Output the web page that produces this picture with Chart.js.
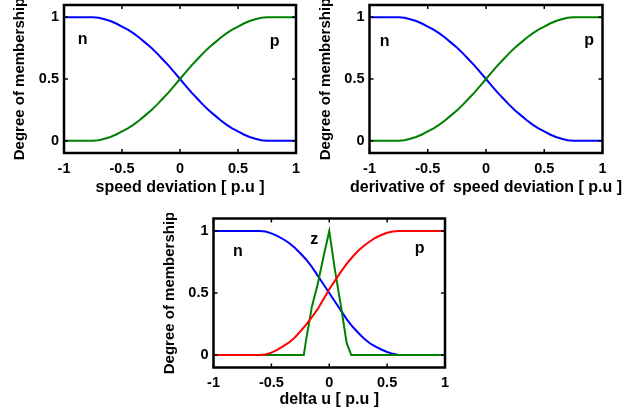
<!DOCTYPE html>
<html>
<head>
<meta charset="utf-8">
<script src="https://cdn.jsdelivr.net/npm/chart.js@4/dist/chart.umd.min.js"></script>
<style>
  html, body { margin: 0; padding: 0; background: #ffffff; }
  body { width: 632px; height: 415px; position: relative; overflow: hidden; }
  canvas { position: absolute; }
</style>
</head>
<body>
<script>
// ---------- DATA ----------
const xTicks = [-1, -0.5, 0, 0.5, 1];
const yTicks = [0, 0.5, 1];

const xGrid = [-1,-0.95,-0.9,-0.85,-0.8,-0.75,-0.7,-0.65,-0.6,-0.55,-0.5,-0.45,-0.4,-0.35,-0.3,-0.25,-0.2,-0.15,-0.1,-0.05,0,
               0.05,0.1,0.15,0.2,0.25,0.3,0.35,0.4,0.45,0.5,0.55,0.6,0.65,0.7,0.75,0.8,0.85,0.9,0.95,1];

// speed deviation : n (blue), p (green)
const speedN = [1,1,1,1,1,1,0.997,0.985,0.97,0.95,0.925,0.9,0.87,0.835,0.795,0.755,0.71,0.66,0.61,0.555,0.5,
                0.445,0.39,0.34,0.29,0.245,0.205,0.165,0.13,0.1,0.075,0.05,0.03,0.015,0.003,0,0,0,0,0,0];
const speedP = [0,0,0,0,0,0,0.003,0.015,0.03,0.05,0.075,0.1,0.13,0.165,0.205,0.245,0.29,0.34,0.39,0.445,0.5,
                0.555,0.61,0.66,0.71,0.755,0.795,0.835,0.87,0.9,0.925,0.95,0.97,0.985,0.997,1,1,1,1,1,1];

// derivative of speed deviation : n (blue), p (green)
const derivN = [1,1,1,1,1,1,0.997,0.985,0.97,0.95,0.925,0.9,0.87,0.835,0.795,0.755,0.71,0.66,0.61,0.555,0.5,
                0.445,0.39,0.34,0.29,0.245,0.205,0.165,0.13,0.1,0.075,0.05,0.03,0.015,0.003,0,0,0,0,0,0];
const derivP = [0,0,0,0,0,0,0.003,0.015,0.03,0.05,0.075,0.1,0.13,0.165,0.205,0.245,0.29,0.34,0.39,0.445,0.5,
                0.555,0.61,0.66,0.71,0.755,0.795,0.835,0.87,0.9,0.925,0.95,0.97,0.985,0.997,1,1,1,1,1,1];

// delta u : n (blue), p (red), z (green)
const deltaN = [1,1,1,1,1,1,1,1,1,0.995,0.98,0.96,0.935,0.905,0.867,0.82,0.77,0.71,0.64,0.57,0.5,
                0.43,0.36,0.29,0.23,0.18,0.133,0.095,0.068,0.045,0.025,0.01,0,0,0,0,0,0,0,0,0];
const deltaP = [0,0,0,0,0,0,0,0,0,0.005,0.02,0.042,0.07,0.1,0.14,0.19,0.245,0.305,0.37,0.45,0.53,
                0.6,0.67,0.735,0.79,0.84,0.88,0.915,0.945,0.967,0.985,0.996,1,1,1,1,1,1,1,1,1];
const zX     = [-1, -0.22, -0.2, -0.15, -0.1, -0.05, 0, 0.05, 0.1, 0.15, 0.19, 1];
const deltaZ = [0, 0, 0.12, 0.39, 0.57, 0.79, 1, 0.68, 0.4, 0.1, 0, 0];

// text labels on the plots
const labelsA = [{t:'n', x:-0.84, y:0.82}, {t:'p', x:0.815, y:0.80}];
const labelsB = [{t:'n', x:-0.87, y:0.80}, {t:'p', x:0.885, y:0.81}];
const labelsC = [{t:'n', x:-0.79, y:0.83}, {t:'z', x:-0.13, y:0.93}, {t:'p', x:0.78, y:0.86}];

// ---------- RENDER ----------
const FAM = '"Liberation Sans", Arial, Helvetica, sans-serif';
const BLUE = '#0000ff', GREEN = '#008000', RED = '#ff0000';

function pts(xs, ys) { return xs.map((x, i) => ({x: x, y: ys[i]})); }

const framePlugin = {
  id: 'frame',
  afterDatasetsDraw(chart) {
    const {ctx, chartArea: a, scales} = chart;
    const o = chart.options.plugins.frame;
    ctx.save();
    ctx.strokeStyle = '#000';
    ctx.lineWidth = 1.5;
    const tl = 4;
    ctx.beginPath();
    xTicks.forEach(v => {
      const px = scales.x.getPixelForValue(v);
      ctx.moveTo(px, a.bottom); ctx.lineTo(px, a.bottom - tl);
      ctx.moveTo(px, a.top); ctx.lineTo(px, a.top + tl);
    });
    yTicks.forEach(v => {
      const py = scales.y.getPixelForValue(v);
      ctx.moveTo(a.left, py); ctx.lineTo(a.left + tl, py);
      ctx.moveTo(a.right, py); ctx.lineTo(a.right - tl, py);
    });
    ctx.stroke();
    ctx.lineWidth = 2.5;
    ctx.strokeRect(a.left, a.top, a.right - a.left, a.bottom - a.top);
    // text labels
    ctx.fillStyle = '#000';
    ctx.font = 'bold 16px ' + FAM;
    ctx.textAlign = 'center';
    ctx.textBaseline = 'middle';
    (o.labels || []).forEach(l => {
      ctx.fillText(l.t, scales.x.getPixelForValue(l.x), scales.y.getPixelForValue(l.y));
    });
    // x axis title (drawn without width compression)
    ctx.fillText(o.xTitle, (a.left + a.right) / 2, o.titleY);
    ctx.restore();
  }
};

function makeChart(box, frame, xTitle, datasets, labels, titleY) {
  const cv = document.createElement('canvas');
  cv.width = box.w; cv.height = box.h;
  cv.style.left = box.left + 'px'; cv.style.top = box.top + 'px';
  cv.style.width = box.w + 'px'; cv.style.height = box.h + 'px';
  document.body.appendChild(cv);
  const xAxisH = box.top + box.h - frame.b;
  const yAxisW = frame.l - box.left;
  const tickFont = {family: FAM, size: 14.5, weight: 'bold'};
  const yTitleFont = {family: FAM, size: 15, weight: 'bold'};
  return new Chart(cv, {
    type: 'line',
    data: { datasets: datasets },
    options: {
      responsive: false,
      animation: false,
      devicePixelRatio: 1,
      layout: { padding: { top: frame.t - box.top, right: box.left + box.w - frame.r, left: 0, bottom: 0 } },
      plugins: { legend: {display: false}, tooltip: {enabled: false},
                 frame: {labels: labels, xTitle: xTitle, titleY: titleY - box.top} },
      elements: { point: {radius: 0}, line: {tension: 0, borderWidth: 2} },
      scales: {
        x: {
          type: 'linear', min: -1, max: 1,
          afterBuildTicks: s => { s.ticks = xTicks.map(v => ({value: v})); },
          grid: {display: false, drawTicks: false},
          border: {display: false},
          ticks: {color: '#000', font: tickFont, padding: 7, maxRotation: 0, autoSkip: false, callback: v => String(v)},
          title: {display: false},
          afterFit: s => { s.height = xAxisH; s.paddingLeft = 0; s.paddingRight = 0; }
        },
        y: {
          type: 'linear', min: -0.1, max: 1.1,
          afterBuildTicks: s => { s.ticks = yTicks.map(v => ({value: v})); },
          grid: {display: false, drawTicks: false},
          border: {display: false},
          ticks: {color: '#000', font: tickFont, padding: 5, autoSkip: false, callback: v => String(v)},
          title: {display: true, text: 'Degree of membership', color: '#000', font: yTitleFont, padding: {top: 11, bottom: 0}},
          afterFit: s => { s.width = yAxisW; s.paddingTop = 0; s.paddingBottom = 0; }
        }
      }
    },
    plugins: [framePlugin]
  });
}

function ds(data, color) {
  return { data: data, borderColor: color, backgroundColor: color, borderWidth: 2, pointRadius: 0, fill: false, tension: 0 };
}

makeChart({left: 0, top: 0, w: 316, h: 200}, {l: 64, t: 5, r: 296, b: 153},
  'speed deviation [ p.u ]',
  [ds(pts(xGrid, speedP), GREEN), ds(pts(xGrid, speedN), BLUE)], labelsA, 188);

makeChart({left: 306, top: 0, w: 326, h: 200}, {l: 369.5, t: 5, r: 602.5, b: 153},
  'derivative of  speed deviation [ p.u ]',
  [ds(pts(xGrid, derivP), GREEN), ds(pts(xGrid, derivN), BLUE)], labelsB, 188);

makeChart({left: 150, top: 213, w: 316, h: 200}, {l: 213.5, t: 218.5, r: 445, b: 367.5},
  'delta u [ p.u ]',
  [ds(pts(xGrid, deltaP), RED), ds(pts(zX, deltaZ), GREEN), ds(pts(xGrid, deltaN), BLUE)], labelsC, 400);
</script>
</body>
</html>
